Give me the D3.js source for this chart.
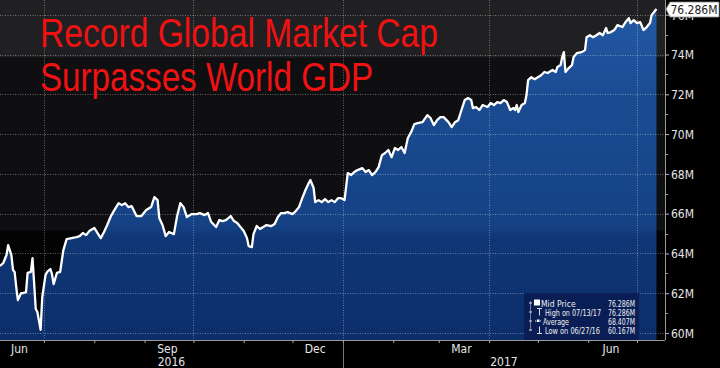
<!DOCTYPE html>
<html><head><meta charset="utf-8">
<script src="https://cdn.jsdelivr.net/npm/d3@7"></script>
<style>
html,body{margin:0;padding:0;background:#000;overflow:hidden;}
svg{display:block;}
.cond{font-family:'DejaVu Sans Condensed','DejaVu Sans',sans-serif;font-stretch:condensed;}
</style></head><body>
<svg id="chart" width="720" height="368"></svg>
<script>
// ---------- data ----------
const dates = ["2016-06-04","2016-06-06","2016-06-08","2016-06-09","2016-06-11","2016-06-12","2016-06-13","2016-06-14","2016-06-15","2016-06-17","2016-06-18","2016-06-20","2016-06-21","2016-06-23","2016-06-24","2016-06-25","2016-06-26","2016-06-27","2016-06-29","2016-06-30","2016-07-02","2016-07-03","2016-07-05","2016-07-06","2016-07-07","2016-07-09","2016-07-11","2016-07-13","2016-07-15","2016-07-18","2016-07-21","2016-07-23","2016-07-25","2016-07-27","2016-07-29","2016-08-01","2016-08-05","2016-08-07","2016-08-09","2016-08-11","2016-08-13","2016-08-16","2016-08-18","2016-08-20","2016-08-22","2016-08-24","2016-08-27","2016-08-30","2016-09-02","2016-09-05","2016-09-07","2016-09-09","2016-09-10","2016-09-12","2016-09-14","2016-09-16","2016-09-19","2016-09-21","2016-09-23","2016-09-25","2016-09-27","2016-09-30","2016-10-03","2016-10-05","2016-10-08","2016-10-10","2016-10-12","2016-10-15","2016-10-17","2016-10-19","2016-10-21","2016-10-24","2016-10-26","2016-10-28","2016-10-30","2016-11-01","2016-11-03","2016-11-04","2016-11-06","2016-11-07","2016-11-09","2016-11-11","2016-11-13","2016-11-15","2016-11-18","2016-11-20","2016-11-22","2016-11-24","2016-11-26","2016-11-28","2016-12-01","2016-12-03","2016-12-05","2016-12-07","2016-12-09","2016-12-11","2016-12-12","2016-12-14","2016-12-15","2016-12-17","2016-12-19","2016-12-21","2016-12-23","2016-12-25","2016-12-27","2016-12-29","2016-12-31","2017-01-02","2017-01-03","2017-01-04","2017-01-06","2017-01-08","2017-01-10","2017-01-13","2017-01-15","2017-01-17","2017-01-19","2017-01-21","2017-01-23","2017-01-25","2017-01-27","2017-01-29","2017-01-31","2017-02-02","2017-02-04","2017-02-06","2017-02-08","2017-02-10","2017-02-12","2017-02-14","2017-02-16","2017-02-19","2017-02-22","2017-02-24","2017-02-26","2017-02-28","2017-03-02","2017-03-04","2017-03-07","2017-03-09","2017-03-11","2017-03-13","2017-03-15","2017-03-17","2017-03-19","2017-03-21","2017-03-22","2017-03-24","2017-03-26","2017-03-28","2017-03-31","2017-04-02","2017-04-04","2017-04-06","2017-04-08","2017-04-10","2017-04-12","2017-04-14","2017-04-16","2017-04-17","2017-04-18","2017-04-19","2017-04-21","2017-04-23","2017-04-24","2017-04-25","2017-04-27","2017-04-29","2017-05-01","2017-05-03","2017-05-05","2017-05-07","2017-05-10","2017-05-12","2017-05-13","2017-05-15","2017-05-16","2017-05-17","2017-05-18","2017-05-20","2017-05-22","2017-05-23","2017-05-25","2017-05-28","2017-05-30","2017-05-31","2017-06-02","2017-06-04","2017-06-06","2017-06-08","2017-06-10","2017-06-12","2017-06-13","2017-06-15","2017-06-17","2017-06-19","2017-06-22","2017-06-24","2017-06-26","2017-06-27","2017-06-29","2017-07-01","2017-07-03","2017-07-05","2017-07-07","2017-07-09","2017-07-10","2017-07-13"];
const values = [63.37,63.52,63.92,64.42,63.92,63.17,63.07,62.31,61.66,62.01,62.01,62.06,63.02,63.07,63.77,62.51,61.21,61.06,60.167,61.81,62.91,63.07,63.22,62.96,62.46,63.02,63.07,64.17,64.72,64.77,64.82,64.87,65.03,64.92,65.13,65.28,64.77,65.08,65.43,65.83,66.13,66.53,66.43,66.53,66.33,66.38,65.88,65.88,66.18,66.33,66.83,66.68,65.78,65.43,64.87,65.08,64.97,65.88,66.53,66.33,65.83,65.98,65.98,66.03,65.93,66.03,65.58,65.33,65.68,65.63,65.68,65.88,65.63,65.53,65.33,65.13,64.77,64.37,64.32,64.97,65.38,65.23,65.33,65.43,65.38,65.48,65.83,66.03,66.03,66.08,65.98,66.13,66.33,66.78,67.19,67.54,67.69,67.29,66.58,66.68,66.58,66.73,66.58,66.68,66.58,66.78,66.78,66.68,67.34,68.04,67.94,68.09,68.19,68.29,68.09,68.19,67.94,68.09,68.34,68.94,69.05,69.20,68.84,69.30,69.20,69.35,69.05,69.80,70.10,70.50,70.55,70.60,70.95,70.80,70.45,70.70,70.85,70.85,70.60,70.35,70.60,70.70,71.21,71.71,71.81,71.71,71.31,71.36,71.21,71.46,71.36,71.56,71.46,71.61,71.56,71.71,71.61,71.21,71.31,71.21,71.46,71.11,71.46,71.56,71.96,72.71,72.86,72.76,72.86,72.96,73.12,73.07,73.22,73.12,73.37,73.47,73.87,74.12,73.12,73.32,73.47,73.87,74.07,74.12,74.22,74.87,74.97,74.87,74.97,75.08,74.97,75.33,75.08,75.13,75.23,75.48,75.38,75.63,75.83,75.58,75.73,75.58,75.63,75.23,75.38,75.58,75.98,76.286];

const yTickValues = [60,62,64,66,68,70,72,74,76];
const yMinorTicks = [61,63,65,67,69,71,73,75];
const monthLabels = ["Jun","Sep","Dec","Mar","Jun"];
const monthLabelDates = ["2016-06-16","2016-09-15","2016-12-15","2017-03-15","2017-06-15"];
const yearLabels = ["2016","2017"];
const yearStarts = ["2016-06-04","2017-01-01"];
const titleLines = ["Record Global Market Cap","Surpasses World GDP"];
const legendLabels = ["Mid Price","High on 07/13/17","Average","Low on 06/27/16"];
const legendValues = ["76.286M","76.286M","68.407M","60.167M"];
const lastLabel = "76.286M";

// ---------- setup ----------
const parse = d3.timeParse("%Y-%m-%d");
const series = dates.map((d,i)=>({date:parse(d), value:values[i]}));
const W = 720, H = 368, PR = 665, PB = 340;
const svg = d3.select("#chart");

const x = d3.scaleTime().domain([parse("2016-06-04"), parse("2017-07-18")]).range([0, 664.6]);
const y = d3.scaleLinear().domain([59.65, 76.74]).range([PB, 0]);

const defs = svg.append("defs");
const grad = defs.append("linearGradient").attr("id","fillGrad")
  .attr("gradientUnits","userSpaceOnUse").attr("x1",0).attr("y1",0).attr("x2",0).attr("y2",PB);
[[0,"#245ca6"],[0.17,"#1e529b"],[0.3,"#1a4b91"],[0.66,"#154285"],[0.7,"#103775"],[1,"#0c2e6b"]]
  .forEach(([o,c])=>grad.append("stop").attr("offset",o).attr("stop-color",c));
defs.append("clipPath").attr("id","plotClip").append("rect").attr("x",0).attr("y",0).attr("width",PR).attr("height",PB);

// background
svg.append("rect").attr("width",W).attr("height",H).attr("fill","#000");
const bg = svg.append("g");
bg.append("rect").attr("x",0).attr("y",0).attr("width",PR).attr("height",PB).attr("fill","#0f0f12");
bg.append("rect").attr("x",0).attr("y",0).attr("width",PR).attr("height",y(73.85)).attr("fill","#202022");
bg.append("rect").attr("x",0).attr("y",y(65.15)).attr("width",PR).attr("height",PB-y(65.15)).attr("fill","#030304");

// area
const plot = svg.append("g").attr("clip-path","url(#plotClip)");
plot.append("path").datum(series)
  .attr("d", d3.area().x(d=>x(d.date)).y0(PB).y1(d=>y(d.value)))
  .attr("fill","url(#fillGrad)");

// grid
const grid = svg.append("g").attr("stroke","rgba(255,255,255,0.36)").attr("stroke-width",1).attr("stroke-dasharray","1,1.5");
grid.selectAll("line.h").data(yTickValues).join("line").attr("class","h")
  .attr("x1",0).attr("x2",PR).attr("y1",d=>Math.round(y(d))+0.5).attr("y2",d=>Math.round(y(d))+0.5);
const qTicks = x.ticks(d3.timeMonth.every(3));
grid.selectAll("line.v").data(qTicks).join("line").attr("class","v")
  .attr("y1",0).attr("y2",PB).attr("x1",d=>Math.round(x(d))+0.5).attr("x2",d=>Math.round(x(d))+0.5);

// line
plot.append("path").datum(series)
  .attr("d", d3.line().x(d=>x(d.date)).y(d=>y(d.value)))
  .attr("fill","none").attr("stroke","#fff").attr("stroke-width",2.3).attr("stroke-linejoin","round");

// title
const title = svg.append("g").attr("fill","#f01212")
  .style("font-family","'Liberation Sans Narrow','Liberation Sans',Arial,sans-serif").style("font-size","40px");
const titleWidths = [398, 333], titleBase = [47, 91];
titleLines.forEach((t,i)=>{
  title.append("text").attr("x",40).attr("y",titleBase[i]).text(t)
    .attr("textLength",titleWidths[i]).attr("lengthAdjust","spacingAndGlyphs");
});

// right axis
const yAxis = d3.axisRight(y).tickValues(yTickValues).tickSize(4).tickPadding(2).tickFormat(d=>d+"M");
const ya = svg.append("g").attr("transform",`translate(${PR},0)`).call(yAxis);
ya.select(".domain").attr("stroke","#9a9a9a").attr("d",`M0.5,0V${PB}`);
ya.selectAll(".tick line").attr("stroke","#bbb");
ya.selectAll(".tick text").attr("class","cond").attr("fill","#e6e6e6").style("font-size","12px").attr("dy","0.36em");
svg.append("g").selectAll("line").data(yMinorTicks).join("line")
  .attr("x1",PR).attr("x2",PR+3).attr("y1",d=>Math.round(y(d))+0.5).attr("y2",d=>Math.round(y(d))+0.5).attr("stroke","#999");

// bottom axis
const xAxis = d3.axisBottom(x).ticks(d3.timeMonth.every(1)).tickSize(3).tickFormat("");
const xa = svg.append("g").attr("transform",`translate(0,${PB})`).call(xAxis);
xa.select(".domain").attr("stroke","#9a9a9a").attr("d",`M0,0.5H${PR}`);
xa.selectAll(".tick line").attr("stroke","#aaa");
svg.append("g").selectAll("text").data(monthLabels).join("text")
  .attr("class","cond").attr("x",(d,i)=>x(parse(monthLabelDates[i]))).attr("y",353)
  .attr("text-anchor","middle").attr("fill","#e6e6e6").style("font-size","12px").text(d=>d);
const yearEdges = yearStarts.map(parse).map(x).concat([PR]);
svg.append("g").selectAll("text").data(yearLabels).join("text")
  .attr("class","cond").attr("x",(d,i)=>(yearEdges[i]+yearEdges[i+1])/2).attr("y",366)
  .attr("text-anchor","middle").attr("fill","#e6e6e6").style("font-size","12px").text(d=>d);
const sepX = Math.round(x(parse("2017-01-01")))+0.5;
svg.append("line").attr("x1",sepX).attr("x2",sepX).attr("y1",PB+3).attr("y2",H).attr("stroke","#777");

// last value label
const ly = y(values[values.length-1]);
svg.append("path")
  .attr("d",`M${PR+1},${ly} L${PR+5},${ly-7} H719 V${ly+8} H${PR+5} Z`)
  .attr("fill","#fff").attr("stroke","#888").attr("stroke-width",0.8);
svg.append("text").attr("class","cond").attr("x",694).attr("y",ly+4.5).attr("text-anchor","middle")
  .attr("fill","#222").style("font-size","12px").text(lastLabel);

// legend
const lg = svg.append("g");
lg.append("rect").attr("x",524).attr("y",293).attr("width",115).attr("height",PB-293).attr("fill","#0b1e54").attr("opacity",0.95);
const rowY = [306.5,315.5,324.5,333.5];
const lfont = "'Liberation Sans Narrow','DejaVu Sans Condensed',sans-serif";
const labelX = [541,545,543,545];
const labelW = [34,56,26,55];
legendLabels.forEach((t,i)=>{
  const tx = lg.append("text").attr("x",labelX[i]).attr("y",rowY[i]).attr("fill","#f0f0f0")
    .style("font-family",lfont).style("font-size","8.5px").text(t);
  const w = tx.node().getComputedTextLength();
  if (Math.abs(w-labelW[i])>2) tx.attr("textLength",labelW[i]).attr("lengthAdjust","spacingAndGlyphs");
  const tv = lg.append("text").attr("x",635).attr("y",rowY[i]).attr("fill","#f0f0f0").attr("text-anchor","end")
    .style("font-family",lfont).style("font-size","8.5px").text(legendValues[i]);
  const wv = tv.node().getComputedTextLength();
  if (Math.abs(wv-27)>2) tv.attr("textLength",27).attr("lengthAdjust","spacingAndGlyphs");
});
// icons
const ic = lg.append("g").attr("stroke","#ddd").attr("stroke-width",1).attr("fill","none");
ic.append("path").attr("d",`M530.5,${rowY[0]-5}V${rowY[3]-3}`).attr("stroke-dasharray","1,1");
rowY.forEach(r=>ic.append("path").attr("d",`M529,${r-3.5}H532`));
lg.append("rect").attr("x",534).attr("y",rowY[0]-7).attr("width",6).attr("height",6).attr("fill","#fff");
ic.append("path").attr("d",`M537,${rowY[1]-7}H542M539.5,${rowY[1]-7}V${rowY[1]}`);
ic.append("path").attr("d",`M535,${rowY[2]-3.5}H541`).attr("stroke-dasharray","1.5,1");
lg.append("rect").attr("x",537).attr("y",rowY[2]-5).attr("width",2.5).attr("height",2.5).attr("fill","#fff");
ic.append("path").attr("d",`M539.5,${rowY[3]-7}V${rowY[3]}M537,${rowY[3]}H542`);
</script>
</body></html>
